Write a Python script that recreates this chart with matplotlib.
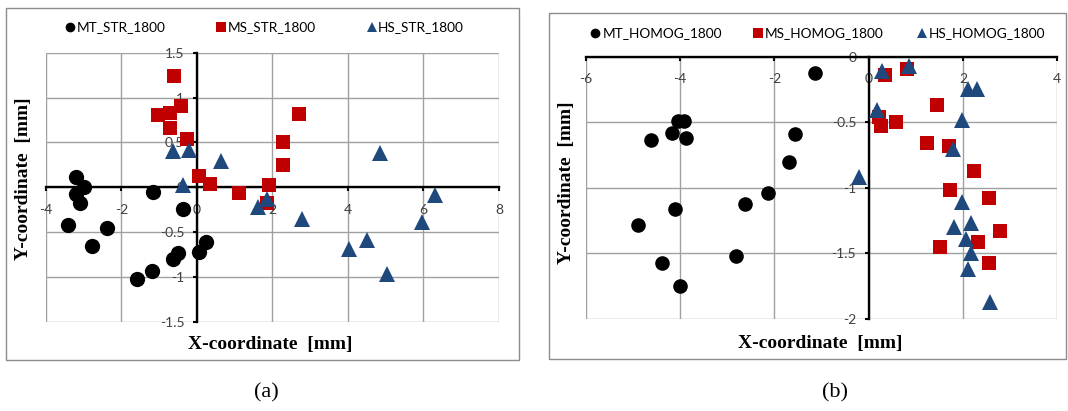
import matplotlib
matplotlib.use("Agg")
import matplotlib.pyplot as plt
from matplotlib.lines import Line2D
from matplotlib.patches import Rectangle

# ---- data: panel (a) STR ----
mt_str_x = [-3.20, -2.98, -3.20, -3.09, -3.40, -2.38, -2.77, -1.15, -0.36, -1.19, -1.57, -0.64, -0.50, 0.05, 0.24]
mt_str_y = [0.11, 0.00, -0.08, -0.175, -0.42, -0.46, -0.66, -0.056, -0.24, -0.94, -1.02, -0.80, -0.73, -0.72, -0.61]
ms_str_x = [-0.60, -1.02, -0.72, -0.42, -0.72, -0.26, 0.07, 0.34, 1.13, 1.91, 1.86, 2.29, 2.29, 2.71]
ms_str_y = [1.24, 0.81, 0.83, 0.90, 0.66, 0.54, 0.13, 0.04, -0.07, 0.03, -0.18, 0.50, 0.25, 0.82]
hs_str_x = [-0.62, -0.21, -0.37, 0.64, 1.61, 1.85, 2.79, 4.84, 4.02, 4.50, 5.03, 5.95, 6.30]
hs_str_y = [0.40, 0.41, 0.02, 0.29, -0.22, -0.13, -0.35, 0.38, -0.69, -0.59, -0.97, -0.39, -0.09]

# ---- data: panel (b) HOMOG ----
mt_hom_x = [-1.13, -4.04, -3.92, -4.18, -3.87, -4.62, -1.57, -1.68, -2.13, -2.63, -4.11, -4.89, -2.81, -4.38, -4.01]
mt_hom_y = [-0.127, -0.49, -0.49, -0.585, -0.62, -0.635, -0.59, -0.80, -1.04, -1.12, -1.16, -1.28, -1.52, -1.57, -1.75]
ms_hom_x = [0.35, 0.81, 0.21, 0.26, 0.58, 1.45, 1.24, 1.71, 2.24, 1.73, 2.55, 2.78, 2.32, 1.51, 2.55]
ms_hom_y = [-0.14, -0.09, -0.457, -0.53, -0.50, -0.365, -0.66, -0.68, -0.87, -1.02, -1.08, -1.33, -1.41, -1.45, -1.57]
hs_hom_x = [0.28, 0.85, 0.17, -0.20, 2.10, 2.29, 1.98, 1.79, 1.97, 1.82, 2.18, 2.07, 2.17, 2.10, 2.58]
hs_hom_y = [-0.107, -0.07, -0.41, -0.92, -0.25, -0.25, -0.48, -0.70, -1.11, -1.30, -1.27, -1.39, -1.50, -1.62, -1.87]

str_names = ["MT_STR_1800", "MS_STR_1800", "HS_STR_1800"]
hom_names = ["MT_HOMOG_1800", "MS_HOMOG_1800", "HS_HOMOG_1800"]

BLACK = "#000000"
RED = "#C00000"
BLUE = "#1F497D"
GRID = "#A0A0A0"
TICKC = "#404040"

W, H = 1068, 411
fig = plt.figure(figsize=(W / 100, H / 100), dpi=100)


def fx(px):
    return px / W


def fy(py):
    return 1 - py / H


def setup_axes(ax, xlim, ylim, xticks, yticks):
    ax.set_xlim(*xlim)
    ax.set_ylim(*ylim)
    ax.set_xticks(xticks)
    ax.set_yticks(yticks)
    ax.set_xticklabels([f"{t:g}" for t in xticks])
    ax.set_yticklabels([f"{t:g}" for t in yticks])
    for s in ("top", "right"):
        ax.spines[s].set_visible(False)
    ax.spines["left"].set_position(("data", 0))
    ax.spines["bottom"].set_position(("data", 0))
    for s in ("left", "bottom"):
        ax.spines[s].set_linewidth(1.7)
        ax.spines[s].set_zorder(2.5)
    ax.grid(True, color=GRID, linewidth=1.0, zorder=0)
    ax.set_axisbelow(True)
    ax.tick_params(axis="both", direction="out", length=3, width=1.5,
                   labelsize=10, labelcolor=TICKC)
    ax.tick_params(axis="x", pad=9)
    ax.tick_params(axis="y", pad=6)
    for lab in ax.get_xticklabels() + ax.get_yticklabels():
        lab.set_fontfamily("Lato")
    ax.patch.set_alpha(0)


def draw_series(ax, xs, ys, marker, color, ms):
    ax.plot(xs, ys, linestyle="none", marker=marker, color=color,
            markersize=ms, markeredgewidth=0, clip_on=False, zorder=3)


def legend_row(items, y_px):
    for (mx, tx, marker, color, ms, name) in items:
        fig.add_artist(Line2D([fx(mx)], [fy(y_px)], marker=marker, color=color,
                              markersize=ms, markeredgewidth=0, linestyle="none",
                              transform=fig.transFigure))
        fig.text(fx(tx), fy(y_px), name, ha="left", va="center",
                 fontsize=9.8, family="Lato", color="#000000")


# ---- panel (a) ----
axa = fig.add_axes([fx(45.7), fy(321.7), fx(499) - fx(45.7), (321.7 - 52.7) / H])
setup_axes(axa, (-4, 8), (-1.5, 1.5), [-4, -2, 0, 2, 4, 6, 8],
           [-1.5, -1, -0.5, 0, 0.5, 1, 1.5])
draw_series(axa, mt_str_x, mt_str_y, "o", BLACK, 11)
draw_series(axa, ms_str_x, ms_str_y, "s", RED, 9.5)
draw_series(axa, hs_str_x, hs_str_y, "^", BLUE, 11.5)

# ---- panel (b) ----
axb = fig.add_axes([fx(585.7), fy(319), fx(1057.3) - fx(585.7), (319 - 56.7) / H])
setup_axes(axb, (-6, 4), (-2, 0), [-6, -4, -2, 0, 2, 4],
           [-2, -1.5, -1, -0.5, 0])
draw_series(axb, mt_hom_x, mt_hom_y, "o", BLACK, 10.5)
draw_series(axb, ms_hom_x, ms_hom_y, "s", RED, 9.5)
draw_series(axb, hs_hom_x, hs_hom_y, "^", BLUE, 11.5)

# ---- chart frames ----
for (x0, y0, x1, y1) in [(6, 8, 519, 360), (549, 13, 1066, 359)]:
    fig.add_artist(Rectangle((fx(x0), fy(y1)), fx(x1) - fx(x0), fy(y0) - fy(y1),
                             transform=fig.transFigure, fill=False,
                             edgecolor="#8C8C8C", linewidth=1.0))

# ---- legends ----
legend_row([(70, 77, "o", BLACK, 7, str_names[0]),
            (221, 228, "s", RED, 7, str_names[1]),
            (372, 378, "^", BLUE, 7.5, str_names[2])], 27)
legend_row([(595, 603, "o", BLACK, 7, hom_names[0]),
            (758, 765, "s", RED, 7, hom_names[1]),
            (922, 929, "^", BLUE, 7.5, hom_names[2])], 33)

# ---- axis titles ----
title_kw = dict(fontsize=14, fontweight="bold", family="Liberation Serif", color="#000000")
fig.text(fx(270), fy(344), "X-coordinate  [mm]", ha="center", va="center", **title_kw)
fig.text(fx(820), fy(343), "X-coordinate  [mm]", ha="center", va="center", **title_kw)
fig.text(fx(24), fy(179), "Y-coordinate  [mm]", ha="center", va="center", rotation=90, **title_kw)
fig.text(fx(566), fy(183), "Y-coordinate  [mm]", ha="center", va="center", rotation=90, **title_kw)

# ---- panel captions ----
fig.text(fx(266), fy(393), "(a)", ha="center", va="center", fontsize=16,
         family="Liberation Serif")
fig.text(fx(835), fy(393), "(b)", ha="center", va="center", fontsize=16,
         family="Liberation Serif")

fig.savefig("out.png", dpi=100, facecolor="white")
